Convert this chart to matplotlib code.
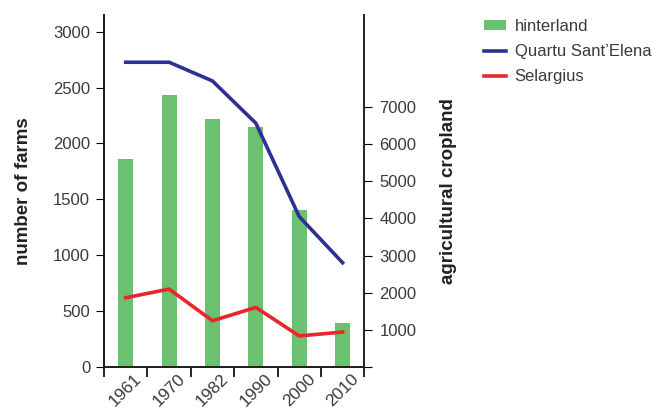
import matplotlib.pyplot as plt
import matplotlib.transforms as mtrans
import numpy as np

plt.rcParams['font.family'] = ['Liberation Sans', 'DejaVu Sans']

years = ['1961', '1970', '1982', '1990', '2000', '2010']
hinterland = [1860, 2435, 2220, 2145, 1405, 395]
quartu = [8215, 8215, 7710, 6570, 4050, 2805]
selargius = [1860, 2095, 1240, 1600, 830, 935]

green = '#6cc170'
blue = '#2e3192'
red = '#e8262b'
txt = '#3a3a3a'

fig = plt.figure(figsize=(6.53, 4.13), dpi=100)
ax = fig.add_axes([0.1593, 0.1121, 0.3986, 0.8516])
ax2 = ax.twinx()

x = np.arange(len(years))
b = ax.bar(x, hinterland, width=0.35, color=green, label='hinterland', zorder=2)
l1, = ax2.plot(x, quartu, color=blue, lw=2.6, label='Quartu Sant\u2019Elena')
l2, = ax2.plot(x, selargius, color=red, lw=2.6, label='Selargius')

ax.set_xlim(-0.5, 5.5)
ax.set_ylim(0, 3150)
ax2.set_ylim(0, 9490)

ax.set_yticks([0, 500, 1000, 1500, 2000, 2500, 3000])
ax2.set_yticks([0, 1000, 2000, 3000, 4000, 5000, 6000, 7000])
ax2.set_yticklabels([''] + [str(v) for v in range(1000, 8000, 1000)])

ax.set_xticks(x)
ax.set_xticklabels(years, rotation=45, ha='right', rotation_mode='anchor')
ax.set_xticks(np.arange(-0.5, 6, 1), minor=True)
ax.tick_params(axis='x', which='major', length=0, pad=3, labelsize=12.5, labelcolor=txt)
ax.tick_params(axis='x', which='minor', length=7, width=1.2, direction='out')
off = mtrans.ScaledTranslation(6 / 72, 0, fig.dpi_scale_trans)
for lab in ax.get_xticklabels():
    lab.set_transform(lab.get_transform() + off)

ax.tick_params(axis='y', length=6, width=0.8, labelsize=12, labelcolor=txt, pad=4)
ax2.tick_params(axis='y', length=6, width=0.8, labelsize=12, labelcolor=txt, pad=5)

for a in (ax, ax2):
    a.spines['top'].set_visible(False)
    for s in ('left', 'right', 'bottom'):
        a.spines[s].set_linewidth(1.4)
        a.spines[s].set_color('#222222')
ax.spines['right'].set_visible(False)

ax.set_ylabel('number of farms', fontsize=13.5, fontweight='bold', color='#222222', labelpad=15)
ax2.set_ylabel('agricultural cropland', fontsize=13.5, fontweight='bold', color='#222222', labelpad=17)

fig.legend([b, l1, l2], ['hinterland', 'Quartu Sant\u2019Elena', 'Selargius'],
           loc='upper left', bbox_to_anchor=(0.718, 0.991), frameon=False,
           fontsize=12, handlelength=1.3, handleheight=0.55, labelspacing=0.62,
           handletextpad=0.55, labelcolor=txt)

fig.savefig('out.png', dpi=100)
